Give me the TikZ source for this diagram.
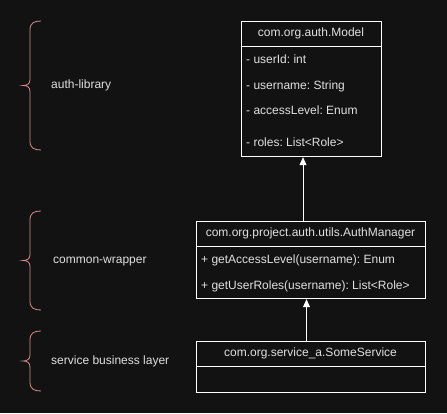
\documentclass[tikz,border=0pt]{standalone}
\usepackage{fontspec}
\setmainfont{Liberation Sans}
\usepackage{tikz}
\usetikzlibrary{arrows.meta,positioning,calc}
\definecolor{canvas}{rgb}{0.07, 0.07, 0.07}
\definecolor{ink}{rgb}{0.88, 0.88, 0.88}
\definecolor{salmon}{rgb}{0.85, 0.55, 0.55}
\frenchspacing

\begin{document}
\begin{tikzpicture}[x=1pt, y=-1pt,
		header/.style={draw=white, thick, minimum height=25pt, inner sep=0pt, text=ink, font=\fontsize{12}{14}\selectfont},
		body/.style={draw=white, thick, inner sep=0pt, anchor=north},
		member/.style={anchor=west, inner sep=0pt, text=ink, font=\fontsize{12}{14}\selectfont, text height=9pt, text depth=2.5pt},
		layer/.style={anchor=west, inner sep=0pt, text=ink, font=\fontsize{12}{14}\selectfont, text height=9pt, text depth=2.5pt},
		brace/.style={salmon, line width=0.8pt},
		inherit/.style={-{Triangle[width=7pt,length=8pt]}, white, thick}]
		
		\fill [canvas] (0,0) rectangle (447,413);
		\useasboundingbox (0,0) rectangle (447,413);
		
		% classes
		\node [header, minimum width=140pt] (model) at (311, 33.5) {com.org.auth.Model};
		\node [body, minimum width=140pt, minimum height=110pt] (modelbody) at (model.south) {};
		\node [member] (m1) at (246, 60) {- userId: int};
		\node [member] (m2) at (246, 86) {- username: String};
		\node [member] (m3) at (246, 111) {- accessLevel: Enum};
		\node [member] (m4) at (246, 143) {- roles: List<Role>};
		
		\node [header, minimum width=229pt] (manager) at (310.5, 233.5) {com.org.project.auth.utils.AuthManager};
		\node [body, minimum width=229pt, minimum height=52pt] (managerbody) at (manager.south) {};
		\node [member] (g1) at (201, 260) {+ getAccessLevel(username): Enum};
		\node [member] (g2) at (201, 286) {+ getUserRoles(username): List<Role>};
		
		\node [header, minimum width=229pt] (service) at (310.5, 353.5) {com.org.service\_a.SomeService};
		\node [body, minimum width=229pt, minimum height=26pt] (servicebody) at (service.south) {};
		
		% connectors
		\coordinate (up1) at (303, 0);
		\coordinate (up2) at (306.5, 0);
		\draw [inherit] (manager.north -| up1) -- (modelbody.south -| up1);
		\draw [inherit] (service.north -| up2) -- (managerbody.south -| up2);
		
		% layers
		\foreach \top/\bot/\tip in {21/150/85.5, 211/310/260.5, 331/391/361}
		{\draw [brace] (41,\top) .. controls (34,\top) and (30,\top+2) .. (30,\top+9)
			-- (30,\tip-6) .. controls (30,\tip-1.5) and (27,\tip) .. (23,\tip)
			.. controls (27,\tip) and (30,\tip+1.5) .. (30,\tip+6)
			-- (30,\bot-9) .. controls (30,\bot-2) and (34,\bot) .. (41,\bot);}
		
		\node [layer] (auth) at (51, 85.5) {auth-library};
		\node [layer] (common) at (53, 260.5) {common-wrapper};
		\node [layer] (business) at (51, 361) {service business layer};
	\end{tikzpicture}
\end{document}
